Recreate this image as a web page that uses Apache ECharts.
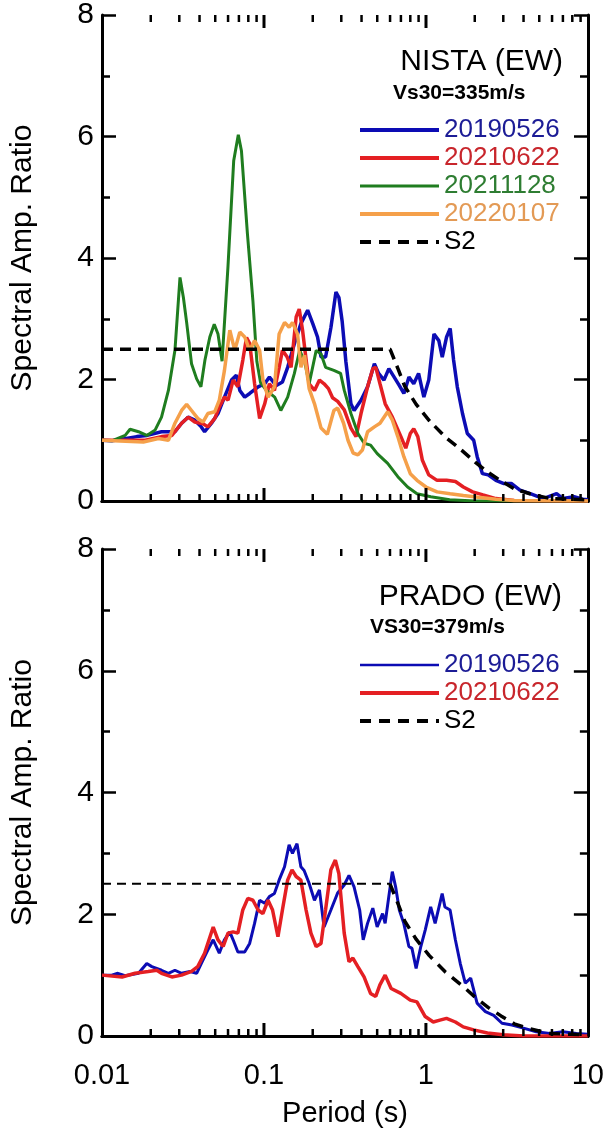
<!DOCTYPE html>
<html>
<head>
<meta charset="utf-8">
<script src="https://cdn.jsdelivr.net/npm/echarts@6/dist/echarts.min.js"></script>
<style>
html,body{margin:0;padding:0;background:#fff;}
#chart{width:607px;height:1134px;}
</style>
</head>
<body>
<div id="chart"></div>
<script>
// ---------- DATA ----------
const stationTitles = ['NISTA (EW)', 'PRADO (EW)'];
const stationVs30 = ['Vs30=335m/s', 'VS30=379m/s'];
const eventNames = ['20190526', '20210622', '20211128', '20220107'];
const s2Name = 'S2';
const xTickLabels = ['0.01', '0.1', '1', '10'];
const majorTickPeriods = [0.1, 1];
const minorTickPeriods = [0.02,0.03,0.04,0.05,0.06,0.07,0.08,0.09,0.2,0.3,0.4,0.5,0.6,0.7,0.8,0.9,2,3,4,5,6,7,8,9];

// NISTA (EW)
const nista20190526 = [[0.01,1.0],[0.0115,0.99],[0.0135,1.02],[0.0164,1.06],[0.019,1.08],[0.0233,1.14],[0.0282,1.14],[0.031,1.28],[0.034,1.38],[0.0374,1.33],[0.041,1.22],[0.043,1.14],[0.0474,1.28],[0.052,1.44],[0.057,1.71],[0.063,1.99],[0.0675,2.07],[0.0709,1.82],[0.076,1.71],[0.0816,1.77],[0.092,1.88],[0.101,1.93],[0.108,2.04],[0.119,1.90],[0.13,1.96],[0.14,2.2],[0.154,2.59],[0.169,2.92],[0.186,3.14],[0.2,2.92],[0.214,2.70],[0.225,2.37],[0.24,2.37],[0.259,2.86],[0.278,3.44],[0.29,3.35],[0.304,2.95],[0.32,2.3],[0.344,1.6],[0.36,1.49],[0.397,1.66],[0.436,1.88],[0.48,2.26],[0.51,2.1],[0.55,1.99],[0.59,2.18],[0.636,2.04],[0.685,1.90],[0.73,1.77],[0.785,2.04],[0.84,1.93],[0.9,2.10],[0.97,1.71],[1.04,1.99],[1.12,2.75],[1.2,2.64],[1.26,2.37],[1.34,2.70],[1.41,2.84],[1.48,2.32],[1.56,1.88],[1.68,1.44],[1.8,1.11],[1.97,1.0],[2.07,0.73],[2.23,0.45],[2.42,0.43],[2.7,0.34],[3.0,0.29],[3.36,0.29],[3.8,0.18],[4.4,0.12],[5.3,0.04],[6.4,0.12],[7.0,0.04],[8.2,0.07],[9.3,0.03],[10,0.02]];
const nista20210622 = [[0.01,1.0],[0.0185,1.0],[0.0233,1.06],[0.027,1.08],[0.031,1.28],[0.034,1.38],[0.0374,1.30],[0.042,1.27],[0.045,1.22],[0.0497,1.36],[0.053,1.55],[0.057,1.71],[0.06,1.66],[0.0645,1.99],[0.069,1.88],[0.074,2.32],[0.078,2.69],[0.0816,2.59],[0.0875,1.93],[0.094,1.36],[0.101,1.6],[0.108,1.93],[0.116,1.82],[0.124,2.2],[0.13,2.48],[0.139,2.37],[0.147,2.2],[0.158,3.03],[0.165,3.16],[0.173,2.81],[0.182,2.32],[0.19,1.93],[0.205,1.82],[0.22,1.99],[0.235,1.93],[0.25,1.85],[0.265,1.7],[0.285,1.64],[0.313,1.5],[0.344,1.2],[0.37,1.06],[0.397,1.44],[0.436,1.88],[0.47,2.18],[0.49,2.2],[0.52,1.93],[0.56,1.6],[0.62,1.38],[0.70,1.06],[0.75,0.87],[0.80,1.11],[0.84,1.19],[0.89,1.06],[0.95,0.67],[1.04,0.43],[1.17,0.34],[1.34,0.34],[1.52,0.32],[1.7,0.23],[1.94,0.15],[2.25,0.1],[2.7,0.04],[3.5,0.01],[10,0]];
const nista20211128 = [[0.01,1.0],[0.0115,0.99],[0.0139,1.08],[0.0149,1.18],[0.0168,1.14],[0.0189,1.08],[0.0213,1.17],[0.0233,1.38],[0.0257,1.82],[0.0282,2.48],[0.0303,3.68],[0.0318,3.35],[0.0333,2.94],[0.0357,2.26],[0.0384,2.01],[0.0408,1.88],[0.0432,2.32],[0.0463,2.70],[0.0493,2.91],[0.052,2.75],[0.0551,2.3],[0.0599,3.85],[0.065,5.6],[0.0694,6.03],[0.0726,5.76],[0.079,4.4],[0.0854,3.3],[0.0903,2.3],[0.0952,1.95],[0.1034,1.82],[0.1164,1.71],[0.127,1.49],[0.14,1.71],[0.154,2.10],[0.166,2.48],[0.178,2.3],[0.19,1.93],[0.21,2.48],[0.225,2.42],[0.24,2.2],[0.27,2.15],[0.297,2.10],[0.313,1.82],[0.344,1.44],[0.38,1.11],[0.415,0.95],[0.455,0.92],[0.5,0.78],[0.58,0.62],[0.67,0.40],[0.77,0.23],[0.88,0.12],[1.07,0.07],[1.4,0.02],[2,0],[10,0]];
const nista20220107 = [[0.01,1.0],[0.018,0.97],[0.0223,1.03],[0.0257,1.0],[0.0282,1.28],[0.031,1.49],[0.0333,1.59],[0.0357,1.49],[0.039,1.36],[0.042,1.30],[0.045,1.44],[0.0497,1.47],[0.053,1.66],[0.057,2.15],[0.0615,2.81],[0.066,2.48],[0.0709,2.78],[0.076,2.70],[0.0816,2.48],[0.0875,2.64],[0.094,2.48],[0.0985,1.99],[0.106,1.71],[0.116,1.88],[0.124,2.75],[0.134,2.94],[0.143,2.86],[0.15,2.94],[0.161,2.75],[0.169,2.2],[0.178,2.4],[0.19,1.85],[0.205,1.6],[0.225,1.2],[0.246,1.1],[0.27,1.49],[0.285,1.53],[0.31,1.28],[0.33,1.0],[0.355,0.79],[0.38,0.76],[0.405,0.84],[0.436,1.14],[0.48,1.22],[0.52,1.28],[0.58,1.47],[0.62,1.33],[0.67,1.06],[0.73,0.73],[0.80,0.45],[0.88,0.34],[1.0,0.23],[1.17,0.15],[1.41,0.12],[1.7,0.09],[2.1,0.06],[2.7,0.03],[3.5,0.01],[10,0]];

// PRADO (EW)
const prado20190526 = [[0.01,1.0],[0.0115,1.0],[0.0124,1.03],[0.0139,0.99],[0.0168,1.03],[0.0189,1.19],[0.0203,1.14],[0.0233,1.08],[0.0257,1.03],[0.0282,1.08],[0.031,1.03],[0.035,1.06],[0.0384,1.03],[0.041,1.19],[0.045,1.41],[0.0486,1.58],[0.053,1.36],[0.057,1.58],[0.0615,1.71],[0.0645,1.58],[0.069,1.38],[0.076,1.38],[0.0816,1.52],[0.0875,1.85],[0.094,2.23],[0.101,2.18],[0.108,2.29],[0.116,2.34],[0.124,2.56],[0.134,2.78],[0.143,3.14],[0.15,3.0],[0.16,3.16],[0.169,2.78],[0.177,2.72],[0.19,2.51],[0.205,2.23],[0.22,2.40],[0.235,1.79],[0.259,2.07],[0.285,2.35],[0.313,2.48],[0.335,2.64],[0.36,2.45],[0.39,2.07],[0.41,1.58],[0.436,1.85],[0.47,2.10],[0.5,1.79],[0.54,2.01],[0.56,1.85],[0.59,2.29],[0.62,2.70],[0.65,2.45],[0.685,2.07],[0.73,1.85],[0.785,1.47],[0.82,1.44],[0.87,1.11],[0.93,1.47],[0.99,1.74],[1.07,2.12],[1.14,1.85],[1.26,2.34],[1.31,2.12],[1.41,2.07],[1.52,1.58],[1.63,1.19],[1.75,0.87],[1.89,0.95],[2.07,0.54],[2.33,0.40],[2.62,0.34],[2.95,0.21],[3.4,0.18],[4.0,0.13],[4.8,0.07],[5.8,0.04],[7.0,0.07],[8.5,0.04],[10,0.03]];
const prado20210622 = [[0.01,1.0],[0.0133,0.97],[0.016,1.03],[0.0193,1.06],[0.0218,1.08],[0.0233,1.03],[0.027,0.97],[0.031,1.0],[0.0357,1.06],[0.039,1.14],[0.043,1.36],[0.0486,1.79],[0.052,1.58],[0.056,1.47],[0.06,1.69],[0.0645,1.71],[0.069,1.69],[0.074,2.07],[0.0795,2.26],[0.0855,2.23],[0.092,2.07],[0.0985,2.01],[0.106,2.23],[0.113,2.07],[0.122,1.63],[0.13,2.07],[0.14,2.56],[0.149,2.73],[0.158,2.62],[0.169,2.56],[0.182,2.07],[0.195,1.69],[0.21,1.47],[0.225,1.52],[0.24,2.07],[0.259,2.73],[0.276,2.89],[0.29,2.67],[0.313,1.69],[0.335,1.22],[0.354,1.28],[0.38,1.14],[0.415,0.97],[0.455,0.70],[0.49,0.65],[0.52,0.84],[0.56,1.0],[0.61,0.78],[0.70,0.70],[0.80,0.59],[0.88,0.56],[0.99,0.32],[1.11,0.23],[1.22,0.26],[1.34,0.29],[1.52,0.23],[1.7,0.15],[1.97,0.10],[2.4,0.05],[3.0,0.02],[4,0],[10,0]];

// S2 design spectrum
const s2CornerPeriod = 0.6;
const s2Spectrum = [[0.01,2.5],[0.6,2.5],[0.673,2.17],[0.739,1.89],[0.87,1.59],[1.05,1.32],[1.32,1.05],[1.67,0.83],[2.01,0.64],[2.42,0.47],[2.91,0.33],[3.51,0.20],[4.43,0.115],[5.86,0.04],[7.7,0.03],[10,0.02]];

// ---------- STYLE ----------
const FONT = '"Liberation Sans", Arial, sans-serif';
const C = {
  blue: '#0c0cb4', red: '#e41f23', green: '#1f7d1f', orange: '#f5a04a',
  blueT: '#1c1c96', redT: '#c8262c', greenT: '#2e7d32', orangeT: '#e39a55'
};

const chart = echarts.init(document.getElementById('chart'), null, {renderer: 'canvas'});

function xAxes(gridIndex, showLabels) {
  const base = {
    type: 'log', logBase: 10, min: 0.01, max: 10, gridIndex,
    splitLine: {show: false},
    axisLine: {show: true, lineStyle: {color: '#000', width: 3}},
    axisTick: {show: false}
  };
  return [
    Object.assign({}, base, {
      position: 'bottom',
      axisLabel: {
        show: showLabels, color: '#000', fontSize: 29, fontFamily: FONT, margin: 25,
        formatter: v => {
          const i = Math.round(Math.log10(v)) + 2;
          return xTickLabels[i] !== undefined ? xTickLabels[i] : '';
        }
      },
      name: showLabels ? 'Period (s)' : '',
      nameLocation: 'middle', nameGap: 63,
      nameTextStyle: {color: '#000', fontSize: 29, fontFamily: FONT}
    }),
    Object.assign({}, base, {position: 'top', axisLabel: {show: false}})
  ];
}
function yAxes(gridIndex) {
  const base = {
    type: 'value', min: 0, max: 8, interval: 2, gridIndex,
    splitLine: {show: false},
    axisLine: {show: true, lineStyle: {color: '#000', width: 3}},
    axisTick: {show: true, inside: true, length: 14, lineStyle: {color: '#000', width: 2.5}},
    minorTick: {show: true, splitNumber: 2, length: 8, lineStyle: {color: '#000', width: 2.5}}
  };
  return [
    Object.assign({}, base, {
      position: 'left',
      axisLabel: {color: '#000', fontSize: 30, fontFamily: FONT, margin: 8},
      name: 'Spectral Amp. Ratio', nameLocation: 'middle', nameGap: 64,
      nameTextStyle: {color: '#000', fontSize: 30, fontFamily: FONT}
    }),
    Object.assign({}, base, {position: 'right', axisLabel: {show: false}})
  ];
}

function line(name, data, color, width, xi, yi, extra) {
  return Object.assign({
    name, type: 'line', data, xAxisIndex: xi, yAxisIndex: yi,
    symbol: 'none', showSymbol: false, smooth: false, silent: true,
    lineStyle: {color, width}, itemStyle: {color}, z: 3
  }, extra || {});
}
function xTicks(values, len, width, xi, yi) {
  return {
    type: 'custom', xAxisIndex: xi, yAxisIndex: yi, silent: true, clip: false, z: 10,
    data: values.map(t => [t, 0]),
    encode: {x: 0, y: 1},
    renderItem: function (params, api) {
      const t = api.value(0);
      const pb = api.coord([t, 0]);
      const pt = api.coord([t, 8]);
      const st = {stroke: '#000', lineWidth: width};
      return {type: 'group', children: [
        {type: 'line', shape: {x1: pb[0], y1: pb[1], x2: pb[0], y2: pb[1] - len}, style: st},
        {type: 'line', shape: {x1: pt[0], y1: pt[1], x2: pt[0], y2: pt[1] + len}, style: st}
      ]};
    }
  };
}

const legendText = {fontSize: 26, fontFamily: FONT, lineHeight: 25};
const legendCommon = {
  orient: 'vertical', left: 358, padding: 0, itemGap: 2,
  itemWidth: 79, itemHeight: 14, selectedMode: false,
  itemStyle: {opacity: 0},
  textStyle: legendText
};

const option = {
  backgroundColor: '#fff',
  animation: false,
  textStyle: {fontFamily: FONT},
  grid: [
    {left: 100, top: 14, width: 488, height: 487},
    {left: 100, top: 549, width: 488, height: 487}
  ],
  xAxis: [].concat(xAxes(0, false), xAxes(1, true)),
  yAxis: [].concat(yAxes(0), yAxes(1)),
  title: [
    {text: stationTitles[0], right: 44, top: 47, padding: 0,
     textStyle: {fontSize: 30, fontWeight: 'normal', color: '#000', fontFamily: FONT}},
    {text: stationVs30[0], left: 393, top: 83, padding: 0,
     textStyle: {fontSize: 21, fontWeight: 'bold', color: '#000', fontFamily: FONT}},
    {text: stationTitles[1], right: 45, top: 582, padding: 0,
     textStyle: {fontSize: 30, fontWeight: 'normal', color: '#000', fontFamily: FONT}},
    {text: stationVs30[1], left: 370, top: 617, padding: 0,
     textStyle: {fontSize: 21, fontWeight: 'bold', color: '#000', fontFamily: FONT}}
  ],
  legend: [
    Object.assign({}, legendCommon, {
      top: 117,
      data: [
        {name: eventNames[0], textStyle: {color: C.blueT}, lineStyle: {width: 4, color: C.blue}},
        {name: eventNames[1], textStyle: {color: C.redT}, lineStyle: {width: 4, color: C.red}},
        {name: eventNames[2], textStyle: {color: C.greenT}, lineStyle: {width: 3, color: C.green}},
        {name: eventNames[3], textStyle: {color: C.orangeT}, lineStyle: {width: 4, color: C.orange}},
        {name: s2Name, textStyle: {color: '#000'}, lineStyle: {width: 4, type: [11, 8], color: '#000'}}
      ]
    }),
    Object.assign({}, legendCommon, {
      top: 652,
      data: [
        {name: eventNames[0], textStyle: {color: C.blueT}, lineStyle: {width: 2.5, color: C.blue}},
        {name: eventNames[1], textStyle: {color: C.redT}, lineStyle: {width: 4, color: C.red}},
        {name: s2Name, textStyle: {color: '#000'}, lineStyle: {width: 4, type: [11, 8], color: '#000'}}
      ]
    })
  ],
  series: [
    line(eventNames[0], nista20190526, C.blue, 3.5, 0, 0),
    line(eventNames[1], nista20210622, C.red, 3.5, 0, 0),
    line(eventNames[2], nista20211128, C.green, 3, 0, 0),
    line(eventNames[3], nista20220107, C.orange, 3.5, 0, 0),
    line(s2Name, s2Spectrum, '#000', 3.5, 0, 0, {lineStyle: {color: '#000', width: 3.5, type: [11, 7]}, z: 4}),
    xTicks(minorTickPeriods, 7, 2.5, 0, 0),
    xTicks(majorTickPeriods, 13, 3, 0, 0),
    line(eventNames[0], prado20190526, C.blue, 3, 2, 2),
    line(eventNames[1], prado20210622, C.red, 3.5, 2, 2),
    line(s2Name, s2Spectrum.filter(p => p[0] <= s2CornerPeriod), '#000', 2, 2, 2,
         {lineStyle: {color: '#000', width: 2, type: [9, 6]}, z: 4}),
    line(s2Name, s2Spectrum.filter(p => p[0] >= s2CornerPeriod), '#000', 3.5, 2, 2,
         {lineStyle: {color: '#000', width: 3.5, type: [11, 8]}, z: 4}),
    xTicks(minorTickPeriods, 7, 2.5, 2, 2),
    xTicks(majorTickPeriods, 13, 3, 2, 2)
  ]
};
chart.setOption(option);
</script>
</body>
</html>
